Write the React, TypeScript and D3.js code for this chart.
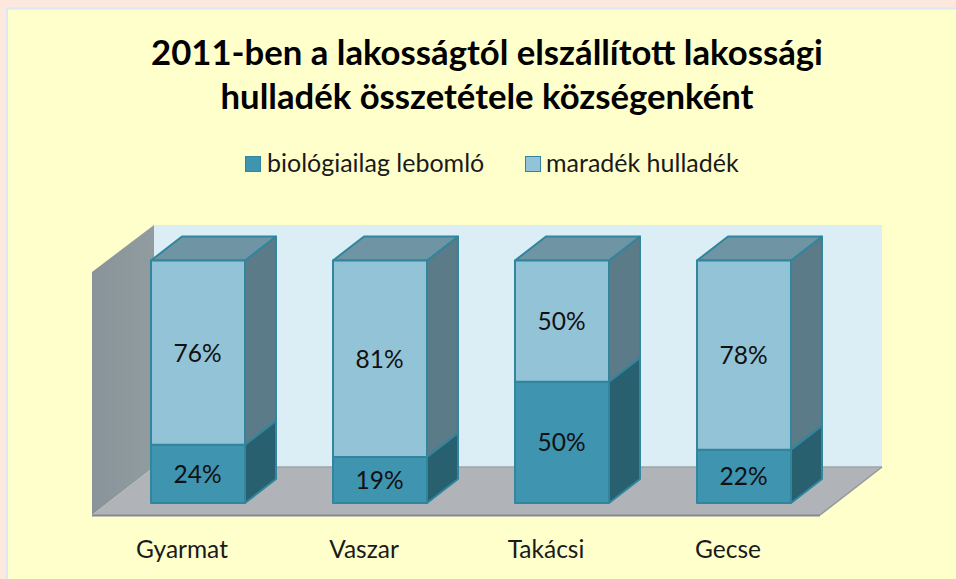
import React from "react";
import * as d3 from "d3";

const categories = ["Gyarmat", "Vaszar", "Takácsi", "Gecse"];
const seriesNames = ["biológiailag lebomló", "maradék hulladék"];
const biological = [24, 19, 50, 22];
const residual = [76, 81, 50, 78];
const titleLines = ["2011-ben a lakosságtól elszállított lakossági", "hulladék összetétele községenként"];

const FONT = "Lato, 'Open Sans', sans-serif";
const W = 956, H = 579;
const DX = 31, DY = -24;
const x0 = 151, barW = 94, step = 182;
const x = d3.scaleBand<string>()
  .domain(categories)
  .range([x0 - (step - barW) / 2, x0 - (step - barW) / 2 + step * 4])
  .paddingInner((step - barW) / step)
  .paddingOuter((step - barW) / step / 2);
const y = d3.scaleLinear().domain([0, 100]).range([503, 260.5]);
const pts = (p: number[][]) => p.map((q) => q.join(",")).join(" ");

const colors = [
  { front: "#3f94b0", side: "#28606f", top: "#28606f", stroke: "#31859c" },
  { front: "#93c3d6", side: "#5b7b88", top: "#6f95a5", stroke: "#31859c" },
];

export default function App() {
  const stacks = d3.stack<any>().keys(["a", "b"])(
    categories.map((c, i) => ({ c, a: biological[i], b: residual[i] }))
  );
  return (
    <svg width={W} height={H} style={{ position: "absolute", left: 0, top: 0 }} fontFamily={FONT}>
      <defs>
        <linearGradient id="wall" x1="0" x2="1" y1="0" y2="0">
          <stop offset="0" stopColor="#88949a" />
          <stop offset="1" stopColor="#919ca0" />
        </linearGradient>
      </defs>
      <rect width={W} height={H} fill="#fce8dc" />
      <rect x={7} y={8.5} width={W} height={H} fill="#ffffcc" stroke="#dfe6f5" strokeWidth={2} />
      {titleLines.map((t, i) => (
        <text key={t} x={487} y={65 + i * 44} textAnchor="middle" fontSize={34.7} fontWeight={700} fill="#000">{t}</text>
      ))}
      <rect x={245.5} y={156.5} width={15} height={15} fill={colors[0].front} stroke={colors[0].stroke} />
      <text x={267} y={172} fontSize={25} fill="#1a1a1a">{seriesNames[0]}</text>
      <rect x={525.5} y={156.5} width={15} height={15} fill={colors[1].front} stroke={colors[0].stroke} />
      <text x={546} y={172} fontSize={25} fill="#1a1a1a">{seriesNames[1]}</text>

      <rect x={154} y={225} width={728} height={242} fill="#dbeef5" />
      <polygon points={pts([[92, 272], [154, 225], [154, 467], [92, 515]])} fill="url(#wall)" />
      <polygon points={pts([[92, 515], [820, 515], [882, 467], [154, 467]])} fill="#b0b4b8" />
      <line x1={154} y1={467} x2={882} y2={467} stroke="#9fa4a8" strokeWidth={1.5} />
      <line x1={92} y1={515.5} x2={820} y2={515.5} stroke="#85898d" strokeWidth={2} />
      <line x1={820} y1={515} x2={882} y2={467} stroke="#94989c" strokeWidth={1.5} />

      {categories.map((c, i) => {
        const bx = x(c)!;
        const bw = x.bandwidth();
        return (
          <g key={c}>
            {stacks.map((s, k) => {
              const yb = y(s[i][0]);
              const yt = y(s[i][1]);
              const col = colors[k];
              const value = s[i][1] - s[i][0];
              return (
                <g key={k} stroke={col.stroke} strokeWidth={2} strokeLinejoin="round">
                  <polygon points={pts([[bx + bw, yb], [bx + bw + DX, yb + DY], [bx + bw + DX, yt + DY], [bx + bw, yt]])} fill={col.side} />
                  {k === stacks.length - 1 && (
                    <polygon points={pts([[bx, yt], [bx + bw, yt], [bx + bw + DX, yt + DY], [bx + DX, yt + DY]])} fill={col.top} />
                  )}
                  <rect x={bx} y={yt} width={bw} height={yb - yt} fill={col.front} />
                  <text x={bx + bw / 2 - 0.5} y={(yb + yt) / 2 + 9} textAnchor="middle" fontSize={24.5} fill="#111" stroke="none">{value}%</text>
                </g>
              );
            })}
            <text x={bx + bw / 2 - 16} y={558} textAnchor="middle" fontSize={24.5} fill="#1a1a1a">{c}</text>
          </g>
        );
      })}
    </svg>
  );
}
